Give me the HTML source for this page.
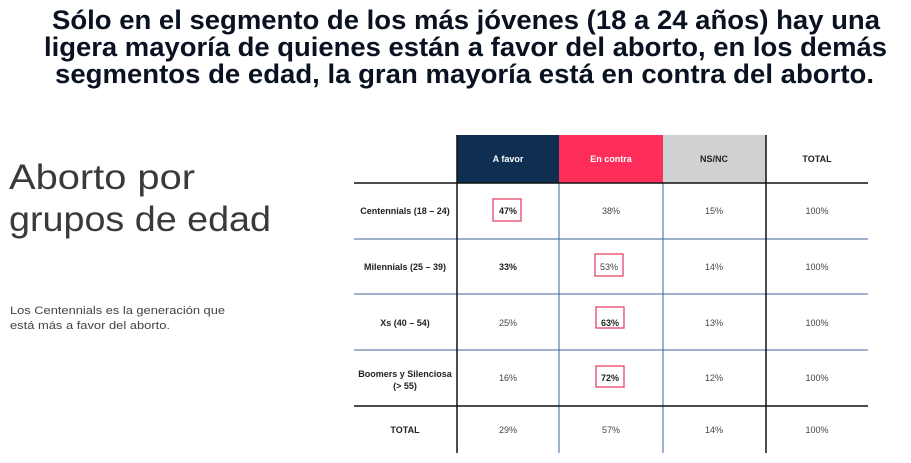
<!DOCTYPE html>
<html><head><meta charset="utf-8"><style>
body{margin:0;width:911px;height:463px;background:#fff;overflow:hidden;position:relative;font-family:"Liberation Sans",sans-serif}
.abs{position:absolute}
</style></head><body>
<svg class="abs" style="left:0;top:0" width="911" height="463">
<g font-family="Liberation Sans, sans-serif" font-weight="bold" font-size="27" fill="#0a1222">
<text x="52" y="29" textLength="828" lengthAdjust="spacingAndGlyphs">Sólo en el segmento de los más jóvenes (18 a 24 años) hay una</text>
<text x="44" y="56" textLength="843" lengthAdjust="spacingAndGlyphs">ligera mayoría de quienes están a favor del aborto, en los demás</text>
<text x="55" y="83" textLength="819" lengthAdjust="spacingAndGlyphs">segmentos de edad, la gran mayoría está en contra del aborto.</text>
</g>
<g font-family="Liberation Sans, sans-serif" font-weight="300" font-size="35" fill="#3a3a3a">
<text x="9" y="189" textLength="186" lengthAdjust="spacingAndGlyphs">Aborto por</text>
<text x="9" y="231" textLength="262" lengthAdjust="spacingAndGlyphs">grupos de edad</text>
</g>
<g font-family="Liberation Sans, sans-serif" font-size="11" fill="#444">
<text x="10" y="314" textLength="215" lengthAdjust="spacingAndGlyphs">Los Centennials es la generación que</text>
<text x="10" y="329" textLength="160" lengthAdjust="spacingAndGlyphs">está más a favor del aborto.</text>
</g>
<rect x="457" y="135" width="102" height="48" fill="#0f2f52"/>
<rect x="559" y="135" width="104" height="48" fill="#ff2d5a"/>
<rect x="663" y="135" width="103" height="48" fill="#d0d1d3"/>
<g stroke="#3f6a99" stroke-width="1">
<line x1="354" y1="239" x2="868" y2="239"/>
<line x1="354" y1="294" x2="868" y2="294"/>
<line x1="354" y1="350" x2="868" y2="350"/>
<line x1="559" y1="183" x2="559" y2="453"/>
<line x1="663" y1="183" x2="663" y2="453"/>
</g>
<g stroke="#111" stroke-width="1.5">
<line x1="354" y1="183" x2="868" y2="183"/>
<line x1="354" y1="406" x2="868" y2="406"/>
<line x1="457" y1="135" x2="457" y2="453"/>
<line x1="766" y1="135" x2="766" y2="453"/>
</g>
<g fill="none" stroke="#e8456a" stroke-width="1.3">
<rect x="493" y="199" width="28" height="22"/>
<rect x="595" y="254" width="28" height="22"/>
<rect x="596" y="307" width="28" height="21"/>
<rect x="596" y="366" width="28" height="21"/>
</g>
<g font-family="Liberation Sans, sans-serif" font-size="9" text-anchor="middle" font-weight="bold">
<text x="508" y="162" fill="#fff">A favor</text>
<text x="611" y="162" fill="#fff">En contra</text>
<text x="714" y="162" fill="#222">NS/NC</text>
<text x="817" y="162" fill="#222">TOTAL</text>
<text x="405" y="214" fill="#222">Centennials (18 – 24)</text>
<text x="405" y="270" fill="#222">Milennials (25 – 39)</text>
<text x="405" y="326" fill="#222">Xs (40 – 54)</text>
<text x="405" y="377" fill="#222">Boomers y Silenciosa</text>
<text x="405" y="389" fill="#222">(&gt; 55)</text>
<text x="405" y="433" fill="#222">TOTAL</text>
</g>
<g font-family="Liberation Sans, sans-serif" font-size="9" text-anchor="middle" fill="#444">
<text x="508" y="214" font-weight="bold" fill="#222">47%</text><text x="611" y="214">38%</text><text x="714" y="214">15%</text><text x="817" y="214">100%</text>
<text x="508" y="270" font-weight="bold" fill="#222">33%</text><text x="609" y="270">53%</text><text x="714" y="270">14%</text><text x="817" y="270">100%</text>
<text x="508" y="326">25%</text><text x="610" y="326" font-weight="bold" fill="#222">63%</text><text x="714" y="326">13%</text><text x="817" y="326">100%</text>
<text x="508" y="381">16%</text><text x="610" y="381" font-weight="bold" fill="#222">72%</text><text x="714" y="381">12%</text><text x="817" y="381">100%</text>
<text x="508" y="433">29%</text><text x="611" y="433">57%</text><text x="714" y="433">14%</text><text x="817" y="433">100%</text>
</g>
</svg>
</body></html>
